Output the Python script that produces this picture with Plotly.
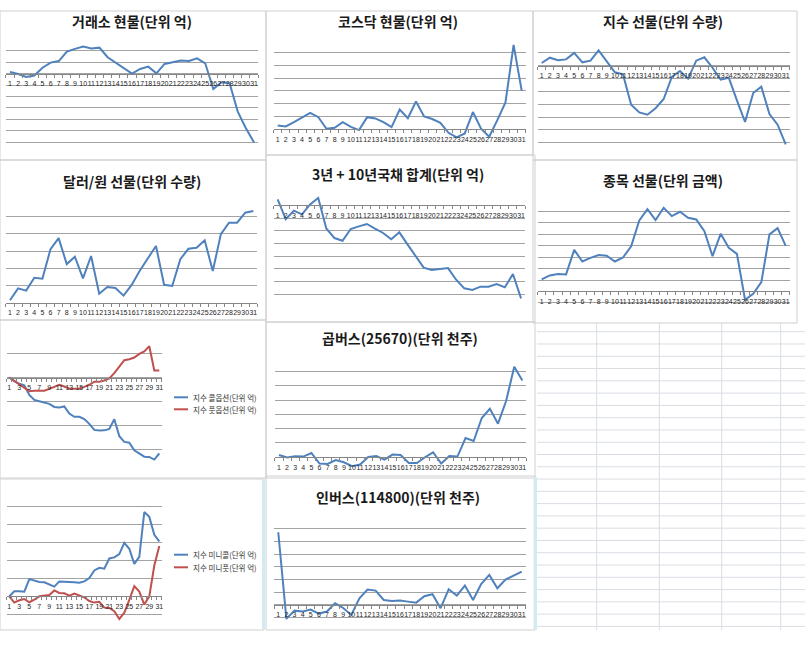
import plotly.graph_objects as go

W, H = 805, 651

# ---------------- data (values read in grid-line units) ----------------
days = list(range(1, 32))
day_labels = [str(d) for d in days]

kospi_spot = [0.15, -0.03, -0.3, -0.17, 0.52, 0.96, 1.1, 1.92, 2.16, 2.36, 2.2, 2.27, 1.43, 0.96, 0.44, 0.0,
              0.41, 0.61, 0.03, 0.85, 1.0, 1.14, 1.1, 1.34, 0.9, -1.34, -0.76, -0.85, -3.32, -4.78, -6.03]
kosdaq_spot = [0.29, 0.21, 0.55, 0.94, 1.28, 0.94, 0.03, 0.1, 0.55, 0.18, -0.08, 0.94, 0.84, 0.55, 0.16, 1.54,
               0.86, 2.17, 0.99, 0.79, 0.5, -0.29, -0.65, -0.34, 1.34, 0.03, -0.6, 0.71, 2.09, 6.62, 3.01]
index_futures = [0.21, 0.62, 0.42, 0.49, 0.99, 0.26, 0.39, 1.19, 0.34, -0.52, -0.68, -3.04, -3.64, -3.82, -3.32,
                 -2.6, -0.88, -0.42, -1.01, 0.39, 0.65, -0.16, -1.09, -0.94, -2.7, -4.39, -2.13, -1.64, -3.77,
                 -4.6, -6.13]
usd_krw_futures = [0.14, 0.83, 0.7, 1.45, 1.39, 3.11, 3.75, 2.24, 2.67, 1.41, 2.71, 0.52, 0.91, 0.85, 0.41, 1.03,
                   1.86, 2.61, 3.29, 1.04, 0.97, 2.53, 3.13, 3.19, 3.62, 1.84, 3.98, 4.64, 4.64, 5.22, 5.32]
ktb_3y_10y = [0.47, -1.1, -0.42, -0.71, 0.08, 0.58, -1.82, -2.58, -2.79, -1.87, -1.66, -1.47, -1.84, -2.18, -2.68,
              -2.13, -3.08, -4.05, -4.92, -5.1, -5.05, -4.95, -5.87, -6.55, -6.68, -6.42, -6.42, -6.21, -6.47,
              -5.42, -7.34]
stock_futures = [1.05, 1.4, 1.52, 1.49, 3.64, 2.62, 2.94, 3.18, 3.12, 2.62, 2.97, 3.94, 6.21, 7.2, 6.24, 7.32,
                 6.59, 6.97, 6.44, 6.3, 5.28, 3.09, 5.04, 3.82, 3.29, -0.73, -0.2, 0.82, 4.99, 5.54, 3.99]
call_options = [0.0, -0.15, -0.26, -0.32, -0.72, -0.93, -0.98, -1.04, -1.09, -1.22, -1.24, -1.2, -1.49, -1.63,
                -1.63, -1.72, -1.92, -2.17, -2.2, -2.19, -2.13, -1.73, -2.43, -2.67, -2.7, -3.02, -3.15, -3.28,
                -3.29, -3.4, -3.15]
put_options = [0.0, -0.15, -0.29, -0.43, -0.57, -0.55, -0.55, -0.55, -0.47, -0.39, -0.3, -0.37, -0.46, -0.47,
               -0.46, -0.39, -0.3, -0.17, -0.17, -0.12, -0.04, 0.18, 0.44, 0.72, 0.76, 0.83, 0.98, 1.08, 1.3,
               0.29, 0.29]
inverse_2x = [0.16, -0.02, 0.07, 0.05, 0.3, -0.44, -0.47, -0.19, -0.35, -0.63, -0.51, 0.02, 0.09, -0.16, 0.19,
              0.16, -0.4, -0.4, 0.0, 0.35, -0.44, 0.09, 0.05, 1.35, 1.14, 2.75, 3.4, 2.35, 3.94, 6.34, 5.38]
mini_call = [0.0, 0.28, 0.28, 0.26, 0.96, 0.87, 0.8, 0.78, 0.65, 0.54, 0.83, 0.8, 0.8, 0.78, 0.76, 0.83, 1.02,
             1.44, 1.59, 1.54, 2.11, 2.17, 2.35, 2.98, 2.65, 1.81, 2.2, 4.7, 4.43, 3.43, 3.06]
mini_put = [0.0, -0.35, -0.22, -0.15, -0.33, -0.19, 0.0, 0.02, 0.07, 0.33, 0.19, 0.17, 0.04, 0.15, 0.06, -0.06,
            -0.26, -0.35, -0.31, -0.63, -0.65, -0.83, -1.26, -0.91, -0.2, 0.57, 0.26, -0.46, 0.0, 1.72, 2.8]
inverse_1x = [5.72, -1.1, -0.45, -0.52, -0.37, -0.68, -0.52, 0.13, -0.24, -0.79, 0.52, 1.21, 1.13, 0.39, 0.31,
              0.34, 0.26, 0.18, 0.68, 0.84, -0.26, 1.23, 0.73, 1.52, 0.39, 1.65, 2.36, 1.31, 1.99, 2.31, 2.62]

BLUE = "#4F81BD"
RED = "#C0504D"
KFONT = "Noto Sans CJK KR"

# ---------------- panel layout (pixels) ----------------
panels = [
    dict(title="거래소 현물(단위 억)", tpos=(132, 21), plot=(5.9, 39.3, 258.1, 153.7), yr=(-7, 3),
         series=[("거래소 현물", kospi_spot, BLUE)]),
    dict(title="코스닥 현물(단위 억)", tpos=(398, 21), plot=(273.6, 40, 525.8, 139.3), yr=(-0.8, 7),
         series=[("코스닥 현물", kosdaq_spot, BLUE)]),
    dict(title="지수 선물(단위 수량)", tpos=(663, 21), plot=(537.6, 40, 789.8, 155.5), yr=(-7, 2),
         series=[("지수 선물", index_futures, BLUE)]),
    dict(title="달러/원 선물(단위 수량)", tpos=(132, 181), plot=(5.9, 199.3, 257.4, 302.7), yr=(0, 6),
         series=[("달러/원 선물", usd_krw_futures, BLUE)]),
    dict(title="3년 + 10년국채 합계(단위 억)", tpos=(398, 173.5), plot=(273.6, 192.7, 525.1, 306.7), yr=(-8, 1),
         series=[("3년 + 10년국채 합계", ktb_3y_10y, BLUE)]),
    dict(title="종목 선물(단위 금액)", tpos=(663, 180), plot=(537.6, 200, 789.8, 314.3), yr=(-2, 8),
         series=[("종목 선물", stock_futures, BLUE)]),
    dict(title=None, plot=(6.8, 329.3, 161.8, 474), yr=(-4, 2), odd=True,
         series=[("지수 콜옵션(단위 억)", call_options, BLUE), ("지수 풋옵션(단위 억)", put_options, RED)],
         legend=(174, 397.3, 12.0)),
    dict(title="곱버스(25670)(단위 천주)", tpos=(400, 337.5), plot=(274.9, 357.3, 526.4, 468.7), yr=(-0.8, 7),
         series=[("곱버스", inverse_2x, BLUE)]),
    dict(title=None, plot=(6.8, 488.7, 161.8, 629.5), yr=(-1.85, 6), odd=True,
         series=[("지수 미니콜(단위 억)", mini_call, BLUE), ("지수 미니풋(단위 억)", mini_put, RED)],
         legend=(174, 554.7, 12.6)),
    dict(title="인버스(114800)(단위 천주)", tpos=(398, 497), plot=(274.2, 516, 525.8, 629.7), yr=(-1.95, 7),
         series=[("인버스", inverse_1x, BLUE)]),
]

frames = [(0, 11, 266, 160), (266, 11, 533, 155), (533, 11, 797, 160),
          (0, 160, 266, 320), (266, 155, 535, 322), (533, 160, 797, 323),
          (0, 320, 266, 478), (266, 322, 535, 478),
          (0, 479, 264, 630), (266, 476, 535, 630)]

fig = go.Figure()
shapes = []
annotations = []
layout_axes = {}


def fx(p):
    return p / W


def fy(p):
    return 1 - p / H


for k, pn in enumerate(panels, start=1):
    sfx = "" if k == 1 else str(k)
    x0, yt, x1, yb = pn["plot"]
    lo, hi = pn["yr"]
    zero_px = yt + (hi - 0) / (hi - lo) * (yb - yt)
    if pn.get("odd"):
        tv = days[::2]
        tt = day_labels[::2]
    else:
        tv = days
        tt = day_labels
    layout_axes["xaxis" + sfx] = dict(
        domain=[fx(x0), fx(x1)], anchor="free", position=fy(zero_px),
        range=[0.5, len(days) + 0.5], tickmode="array", tickvals=tv, ticktext=tt,
        ticks="", showgrid=False, zeroline=False, showline=True, linecolor="#868686", linewidth=1,
        tickangle=0, tickfont=dict(size=7, family="Liberation Sans", color="#262626"),
        ticklabelstandoff=3,
        minor=dict(tick0=0.5, dtick=1, ticks="outside", ticklen=3, tickcolor="#868686", showgrid=False),
        fixedrange=True,
    )
    layout_axes["yaxis" + sfx] = dict(
        domain=[fy(yb), fy(yt)], anchor="x" + sfx, range=[lo, hi], tick0=0, dtick=1,
        showgrid=True, gridcolor="#a3a3a3", gridwidth=1, showticklabels=False, zeroline=False,
        ticks="", showline=False, fixedrange=True,
    )
    for name, vals, col in pn["series"]:
        fig.add_trace(go.Scatter(x=days, y=vals, mode="lines", name=name,
                                 line=dict(color=col, width=2), xaxis="x" + sfx, yaxis="y" + sfx,
                                 showlegend=False))
    if pn["title"]:
        tx, ty = pn["tpos"]
        annotations.append(dict(text=pn["title"], x=fx(tx), y=fy(ty), xref="paper", yref="paper",
                                xanchor="center", yanchor="middle", showarrow=False,
                                font=dict(size=14, family=KFONT, color="#1a1a1a", weight="bold")))
    if pn.get("legend"):
        lx, ly, step = pn["legend"]
        for i, (name, vals, col) in enumerate(pn["series"]):
            yy = ly + i * step
            shapes.append(dict(type="line", xref="paper", yref="paper", x0=fx(lx), x1=fx(lx + 14),
                               y0=fy(yy), y1=fy(yy), line=dict(color=col, width=2)))
            annotations.append(dict(text=name, x=fx(lx + 16.5), y=fy(yy), xref="paper", yref="paper",
                                    xanchor="left", yanchor="middle", showarrow=False,
                                    font=dict(size=7.5, family=KFONT, color="#333333")))

# spreadsheet cell grid in the empty lower-right area
grid_col = "#d9dde3"
row_top, row_h, n_rows = 331.7, 12.28, 25
for i in range(n_rows):
    yy = row_top + i * row_h
    shapes.append(dict(type="line", xref="paper", yref="paper", x0=fx(537), x1=fx(805),
                       y0=fy(yy), y1=fy(yy), line=dict(color=grid_col, width=1), layer="below"))
for xx in (596.7, 659.3, 721.7, 780.7):
    shapes.append(dict(type="line", xref="paper", yref="paper", x0=fx(xx), x1=fx(xx),
                       y0=fy(323), y1=fy(630), line=dict(color=grid_col, width=1), layer="below"))

# chart frames
for (a, b, c, d) in frames:
    shapes.append(dict(type="rect", xref="paper", yref="paper", x0=fx(a), x1=fx(c), y0=fy(d), y1=fy(b),
                       line=dict(color="#d0d0d0", width=1), layer="below"))
# selection bars
for (a, b, c, d) in [(262, 479, 265.5, 629), (533.5, 477, 537, 630)]:
    shapes.append(dict(type="rect", xref="paper", yref="paper", x0=fx(a), x1=fx(c), y0=fy(d), y1=fy(b),
                       line=dict(width=0), fillcolor="#d3eaf1", layer="below"))

fig.update_layout(
    width=W, height=H, margin=dict(l=0, r=0, t=0, b=0),
    paper_bgcolor="white", plot_bgcolor="rgba(0,0,0,0)",
    showlegend=False, shapes=shapes, annotations=annotations,
    font=dict(family=KFONT),
    **layout_axes,
)

fig.write_html("out.html", config={"displayModeBar": False},
               post_script="document.body.style.margin='0px';document.body.style.padding='0px';")
